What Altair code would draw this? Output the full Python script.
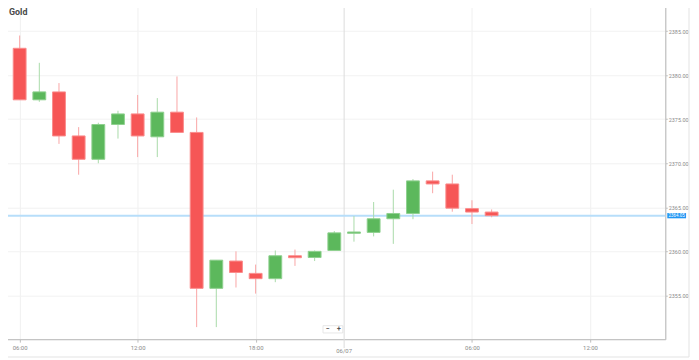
import altair as alt
import pandas as pd

# ---- data (hourly candles) ----
opens  = [2383.05, 2377.2, 2378.1, 2373.1, 2370.45, 2374.4, 2375.6, 2373.0, 2375.8, 2373.5,
          2355.8, 2358.9, 2357.5, 2356.9, 2359.5, 2359.3, 2360.1, 2362.05, 2362.15, 2363.7,
          2364.3, 2368.0, 2367.65, 2364.85, 2364.46]
closes = [2377.2, 2378.1, 2373.1, 2370.45, 2374.4, 2375.6, 2373.1, 2375.8, 2373.5, 2355.8,
          2359.0, 2357.6, 2356.9, 2359.5, 2359.28, 2360.0, 2362.1, 2362.2, 2363.7, 2364.3,
          2368.0, 2367.65, 2364.9, 2364.46, 2364.05]
highs  = [2384.5, 2381.4, 2379.1, 2374.1, 2374.6, 2375.96, 2377.75, 2377.4, 2379.85, 2375.2,
          2359.0, 2360.0, 2358.5, 2360.1, 2360.2, 2360.1, 2362.3, 2364.0, 2365.6, 2367.0,
          2368.2, 2369.05, 2368.7, 2365.8, 2364.76]
lows   = [2377.2, 2376.97, 2372.2, 2368.7, 2370.0, 2372.8, 2370.7, 2370.7, 2373.5, 2351.4,
          2351.4, 2355.9, 2355.2, 2356.5, 2358.35, 2358.9, 2360.1, 2361.1, 2361.7, 2360.85,
          2363.65, 2366.6, 2364.5, 2363.1, 2363.87]

tick_idx = [0, 6, 12, 23, 29]
tick_labels = ["06:00", "12:00", "18:00", "06:00", "12:00"]
date_idx = 16.5
date_label = "06/07"
y_ticks = [2355, 2360, 2365, 2370, 2375, 2380, 2385]
price = 2364.05
title_text = "Gold"

W, H = 672, 341
RED, GREEN = "#f65656", "#5cb85c"
RED_S, GREEN_S = "#fa8c8c", "#8fd08f"
RED_W, GREEN_W = "#f9a5a5", "#a9dba9"
FONT = "Roboto"

df = pd.DataFrame({
    "i": list(range(len(opens))),
    "open": opens, "close": closes, "high": highs, "low": lows,
})

label_expr = " : ".join(
    f"datum.value == {v} ? '{l}'" for v, l in zip(tick_idx, tick_labels)
) + " : ''"

xscale = alt.Scale(domain=[-0.693, 32.58], nice=False, zero=False)
yscale = alt.Scale(domain=[2350.03, 2388.29], nice=False, zero=False)

up = "datum.close >= datum.open"
base = alt.Chart(df)

x_enc = alt.X("i:Q", scale=xscale, axis=alt.Axis(
    values=tick_idx, labelExpr=label_expr, title=None, grid=True,
    gridColor="#f0f0f0", domainColor="#bdbdbd", tickColor="#bdbdbd",
    tickSize=3, labelFontSize=6, labelColor="#8a8a8a", labelFont=FONT,
    labelPadding=2))
y_enc = alt.Y("low:Q", scale=yscale, axis=alt.Axis(
    orient="right", values=y_ticks, format=".2f", title=None, grid=True,
    gridColor="#f2f2f2", domainColor="#bdbdbd", tickColor="#bdbdbd",
    tickSize=2, labelFontSize=5.5, labelColor="#8a8a8a", labelFont=FONT,
    labelPadding=1))

wicks = base.mark_rule(strokeWidth=1).encode(
    x=x_enc, y=y_enc, y2="high:Q",
    color=alt.condition(up, alt.value(GREEN_W), alt.value(RED_W)))
bodies = base.mark_bar(width=13, strokeWidth=1).encode(
    x="i:Q", y=alt.Y("open:Q", scale=yscale), y2="close:Q",
    fill=alt.condition(up, alt.value(GREEN), alt.value(RED)),
    stroke=alt.condition(up, alt.value(GREEN_S), alt.value(RED_S)))

price_df = pd.DataFrame({"p": [price], "lbl": [f"{price:.2f}"]})
price_line = alt.Chart(price_df).mark_rule(color="#b7defa", strokeWidth=2).encode(
    y=alt.Y("p:Q", scale=yscale))
price_box = alt.Chart(price_df).mark_point(
    shape="M-1,-0.28L1,-0.28L1,0.28L-1,0.28Z", filled=True, opacity=1,
    color="#2196f3", size=361).encode(
    x=alt.value(W + 11.5), y=alt.Y("p:Q", scale=yscale))
price_text = alt.Chart(price_df).mark_text(
    color="white", fontSize=4.5, font=FONT, align="center", baseline="middle").encode(
    x=alt.value(W + 11.5), y=alt.Y("p:Q", scale=yscale), text="lbl:N")

date_df = pd.DataFrame({"d": [date_idx], "lbl": [date_label]})
date_line = alt.Chart(date_df).mark_rule(color="#dcdcdc", strokeWidth=1).encode(
    x=alt.X("d:Q", scale=xscale), y=alt.value(0), y2=alt.value(H + 9))
date_text = alt.Chart(date_df).mark_text(
    fontSize=6, color="#8a8a8a", font=FONT, baseline="middle").encode(
    x=alt.X("d:Q", scale=xscale), y=alt.value(H + 12), text="lbl:N")

title_df = pd.DataFrame({"t": [title_text]})
title = alt.Chart(title_df).mark_text(
    fontSize=9, fontWeight="bold", color="#4a4a4a", font=FONT, align="left", baseline="middle").encode(
    x=alt.value(8), y=alt.value(10), text="t:N")

# zoom buttons
btn_df = pd.DataFrame({"s": ["\u2212", "+"]})
btn_rect = alt.Chart(title_df).mark_rect(fill="white", stroke="#e0e0e0", strokeWidth=0.8).encode(
    x=alt.value(325.7), x2=alt.value(345.7), y=alt.value(327.3), y2=alt.value(334.7))
btn_minus = alt.Chart(btn_df.iloc[[0]]).mark_text(fontSize=7, fontWeight="bold", color="#555", font=FONT, baseline="middle").encode(
    x=alt.value(330.7), y=alt.value(331), text="s:N")
btn_plus = alt.Chart(btn_df.iloc[[1]]).mark_text(fontSize=7, fontWeight="bold", color="#555", font=FONT, baseline="middle").encode(
    x=alt.value(341.7), y=alt.value(331), text="s:N")

# borders
left_border = alt.Chart(title_df).mark_rule(color="#e6e6e6").encode(
    x=alt.value(0), y=alt.value(0), y2=alt.value(H))
outer_bottom = alt.Chart(title_df).mark_rule(color="#e3e3e3").encode(
    x=alt.value(-1), x2=alt.value(696), y=alt.value(359), y2=alt.value(359))
outer_right = alt.Chart(title_df).mark_rule(color="#e3e3e3").encode(
    x=alt.value(696), x2=alt.value(696), y=alt.value(0), y2=alt.value(359))

chart = alt.layer(
    date_line, price_line, wicks, bodies, price_box, price_text, date_text,
    title, btn_rect, btn_minus, btn_plus, left_border, outer_bottom, outer_right
).properties(
    width=W, height=H,
    padding={"left": -7, "top": -8, "right": 26, "bottom": 19},
    autosize=alt.AutoSizeParams(type="none"),
).configure_view(stroke=None).configure(background="white")

chart.save("out.html", embed_options={"renderer": "svg", "actions": False})
